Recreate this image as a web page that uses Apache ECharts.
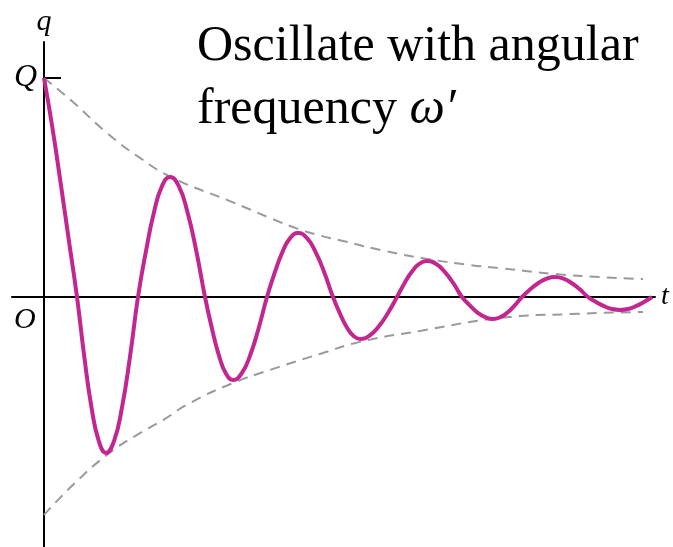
<!DOCTYPE html>
<html>
<head>
<meta charset="utf-8">
<title>Damped oscillation</title>
<script src="https://cdn.jsdelivr.net/npm/echarts@6/dist/echarts.min.js"></script>
<style>
  html, body { margin: 0; padding: 0; background: #ffffff; }
  #chart { width: 673px; height: 547px; }
</style>
</head>
<body>
<div id="chart"></div>
<script>
// Charge q(t) of an underdamped circuit, in units of the initial charge Q.
// Time is in arbitrary units; the drawing carries no numeric ticks.
const chargeT = [0, 0.83, 1.65, 2.48, 3.3,
  4.03, 4.75, 5.48, 6.2,
  7.0, 7.8, 8.6, 9.4,
  10.2, 11.0, 11.8, 12.6,
  13.48, 14.35, 15.23, 16.1,
  16.8, 17.5, 18.2, 18.9,
  19.75, 20.6, 21.45, 22.3,
  23.08, 23.85, 24.63, 25.4,
  26.28, 27.15, 28.03, 28.9,
  29.58, 30.25, 30.93, 31.6,
  32.53, 33.45, 34.38, 35.3,
  36.05, 36.8, 37.55, 38.3,
  39.18, 40.05, 40.93, 41.8,
  42.58, 43.35, 44.13, 44.9,
  45.63, 46.35, 47.08, 47.8,
  48.63, 49.45, 50.28, 51.1,
  51.93, 52.75, 53.58, 54.4,
  55.2, 56.0, 56.8, 57.6,
  58.4, 59.2, 60.0, 60.8];
const chargeQ = [1.0, 0.776, 0.525, 0.260, 0,
  -0.273, -0.504, -0.658, -0.712,
  -0.658, -0.504, -0.273, 0,
  0.210, 0.387, 0.506, 0.548,
  0.506, 0.387, 0.210, 0,
  -0.145, -0.268, -0.350, -0.379,
  -0.350, -0.268, -0.145, 0,
  0.112, 0.206, 0.270, 0.292,
  0.270, 0.206, 0.112, 0,
  -0.074, -0.136, -0.177, -0.192,
  -0.177, -0.136, -0.074, 0,
  0.063, 0.116, 0.152, 0.164,
  0.152, 0.116, 0.063, 0,
  -0.038, -0.071, -0.092, -0.100,
  -0.092, -0.071, -0.038, 0,
  0.035, 0.064, 0.084, 0.091,
  0.084, 0.064, 0.035, 0,
  -0.023, -0.042, -0.055, -0.059,
  -0.055, -0.042, -0.023, 0];

// Decaying amplitude envelope, upper and lower branches
const upperT = [0, 2.9, 6.3, 9.6, 12.9, 18.6, 22.6, 25.4, 27.4, 29.9, 34.1, 38.3, 42.6, 45.6, 51.1, 55.6, 59.9];
const upperQ = [1.0, 0.890, 0.749, 0.635, 0.543, 0.438, 0.361, 0.311, 0.283, 0.256, 0.210, 0.174, 0.146, 0.132, 0.105, 0.091, 0.082];
const lowerT = [0, 3.1, 6.3, 9.1, 11.9, 14.6, 18.9, 22.6, 27.6, 31.6, 37.6, 45.6, 52.6, 59.9];
const lowerQ = [-0.995, -0.849, -0.721, -0.635, -0.562, -0.484, -0.393, -0.333, -0.260, -0.205, -0.155, -0.096, -0.078, -0.068];

// Axis marks and captions
const yTickValues = [1];
const yTickLabels = ['Q'];
const axisNameQ = 'q';
const axisNameT = 't';
const originLabel = 'O';
const captionLines = ['Oscillate with angular', 'frequency {w|ω′}'];

const pairs = (xs, ys) => xs.map((x, i) => [x, ys[i]]);

const serif = '"Liberation Serif", "DejaVu Serif", serif';
const chart = echarts.init(document.getElementById('chart'));

const envelopeStyle = { color: '#9a9a9a', width: 2, type: [10, 7] };

chart.setOption({
  animation: false,
  backgroundColor: '#ffffff',
  grid: { left: 12, right: 18, top: 42, bottom: 0, containLabel: false, outerBoundsMode: 'none' },
  xAxis: {
    type: 'value',
    min: -3.2,
    max: 61.1,
    name: axisNameT,
    nameLocation: 'end',
    nameGap: 6,
    nameTextStyle: { fontFamily: serif, fontStyle: 'italic', fontSize: 28, color: '#000' },
    axisLine: { show: true, onZero: true, lineStyle: { color: '#000', width: 2 } },
    axisTick: { show: false },
    axisLabel: { show: false },
    splitLine: { show: false }
  },
  yAxis: {
    type: 'value',
    min: -1.1416,
    max: 1.1644,
    name: axisNameQ,
    nameLocation: 'end',
    nameGap: 5,
    nameTextStyle: { fontFamily: serif, fontStyle: 'italic', fontSize: 30, color: '#000' },
    axisLine: { show: true, onZero: true, lineStyle: { color: '#000', width: 2 } },
    axisTick: {
      show: true, inside: true, length: 17, customValues: yTickValues,
      lineStyle: { color: '#000', width: 2 }
    },
    axisLabel: {
      show: true, customValues: yTickValues,
      // labels stay at the grid edge while the line sits at t = 0, so pull them right
      margin: -25,
      formatter: (v) => yTickLabels[yTickValues.indexOf(v)] ?? '',
      fontFamily: serif, fontStyle: 'italic', fontSize: 32, color: '#000'
    },
    splitLine: { show: false }
  },
  series: [
    {
      type: 'line',
      data: pairs(upperT, upperQ),
      smooth: 0.5,
      symbol: 'none',
      silent: true,
      lineStyle: envelopeStyle,
      z: 2
    },
    {
      type: 'line',
      data: pairs(lowerT, lowerQ),
      smooth: 0.5,
      symbol: 'none',
      silent: true,
      lineStyle: envelopeStyle,
      z: 2
    },
    {
      type: 'line',
      data: pairs(chargeT, chargeQ),
      smooth: 0.5,
      symbol: 'none',
      silent: true,
      lineStyle: { color: '#c2278f', width: 4 },
      z: 3
    }
  ],
  graphic: [
    {
      type: 'text',
      left: 14, top: 305,
      style: {
        text: originLabel,
        font: 'italic 30px ' + serif,
        fill: '#000'
      }
    },
    {
      type: 'text',
      x: 197, y: 78,
      style: {
        text: captionLines.join('\n'),
        font: '50px ' + serif,
        lineHeight: 63,
        fill: '#000',
        textVerticalAlign: 'middle',
        rich: {
          w: { fontStyle: 'italic', fontFamily: serif, fontSize: 50, lineHeight: 63 }
        }
      }
    }
  ]
});
</script>
</body>
</html>
